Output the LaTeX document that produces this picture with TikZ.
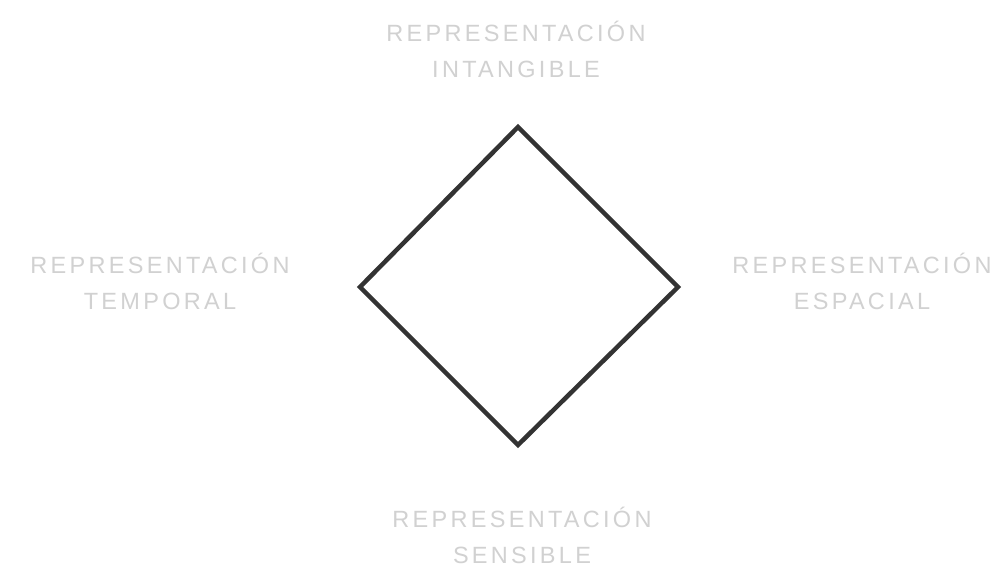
\documentclass[tikz,border=0pt]{standalone}
\usepackage{fontspec}
\setmainfont{Liberation Sans}
\newfontfamily\spaced[LetterSpace=14]{Liberation Sans}
\begin{document}
\begin{tikzpicture}[x=1pt,y=-1pt,
  lbl/.style={text=black!18,font=\spaced\fontsize{23.5}{36}\selectfont,align=center,inner sep=0pt},
  edge/.style={draw=black!80,line width=4.5pt,line join=miter}]
\useasboundingbox[fill=white] (0,0) rectangle (1000,569);
\coordinate (t) at (518,127);
\coordinate (r) at (678,287);
\coordinate (b) at (518,445);
\coordinate (l) at (360,287);
\draw[edge] (t) -- (r) -- (b) -- (l) -- cycle;
\node[lbl] (top) at (516,49) {REPRESENTACIÓN\\INTANGIBLE};
\node[lbl] (left) at (160,281) {REPRESENTACIÓN\\TEMPORAL};
\node[lbl] (right) at (862,281) {REPRESENTACIÓN\\ESPACIAL};
\node[lbl] (bottom) at (522,535) {REPRESENTACIÓN\\SENSIBLE};
\end{tikzpicture}
\end{document}
